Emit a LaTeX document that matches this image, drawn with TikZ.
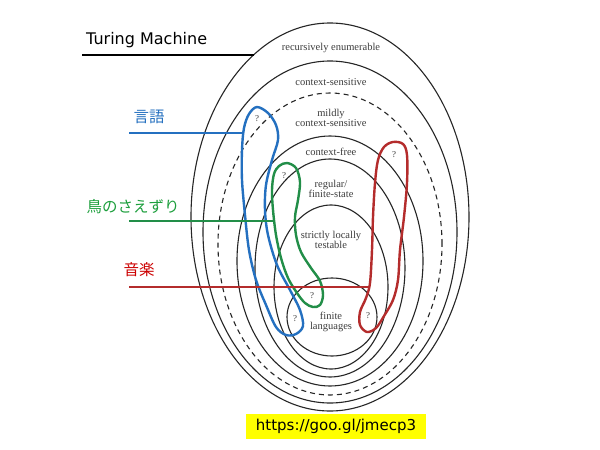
\documentclass[tikz,border=0pt]{standalone}
\usepackage{fontspec}
\setmainfont{Liberation Serif}
\newfontfamily\dejavu{DejaVu Sans}
\newfontfamily\jp{Noto Sans CJK JP}
\definecolor{langblue}{RGB}{36,112,192}
\definecolor{birdgreen}{RGB}{34,142,72}
\definecolor{musicred}{RGB}{180,44,44}
\definecolor{labgray}{RGB}{60,60,60}
\definecolor{urlyellow}{RGB}{255,255,0}
\tikzset{
  ring/.style={draw=black!85, line width=1.1pt},
  dashring/.style={ring, dash pattern=on 5pt off 4pt},
  loop/.style={line width=2.4pt, smooth cycle, tension=0.55},
  lab/.style={font=\fontsize{10.5}{12}\selectfont, text=labgray, align=center, inner sep=0pt},
  qm/.style={font=\fontsize{9}{10}\selectfont, text=labgray, inner sep=0pt},
  jplab/.style={font=\jp\fontsize{15.5}{17}\selectfont, inner sep=0pt},
  conn/.style={line width=2pt}
}
\begin{document}
\begin{tikzpicture}[x=1pt,y=-1pt]
\useasboundingbox (0,0) rectangle (600,450);
\fill[white] (0,0) rectangle (600,450);
% nested classes
\draw[ring] (330,217) ellipse [x radius=139pt, y radius=194pt];
\draw[ring] (330,232) ellipse [x radius=127pt, y radius=171pt];
\draw[dashring] (330,244) ellipse [x radius=112pt, y radius=151pt];
\draw[ring] (330,261) ellipse [x radius=93pt, y radius=125pt];
\draw[ring] (330,268) ellipse [x radius=75pt, y radius=109pt];
\draw[ring] (331,287) ellipse [x radius=57pt, y radius=82pt];
\draw[ring] (332,317) ellipse [x radius=45pt, y radius=39pt];
% class labels
\node[lab] (re) at (331,48) {recursively enumerable};
\node[lab] (cs) at (331,82) {context-sensitive};
\node[lab] (mcs) at (331,118) {mildly\\[-1.5pt]context-sensitive};
\node[lab] (cf) at (331,152) {context-free};
\node[lab] (reg) at (331,189) {regular/\\[-1.5pt]finite-state};
\node[lab] (slt) at (331,240) {strictly locally\\[-1.5pt]testable};
\node[lab] (fin) at (331,322) {finite\\[-1.5pt]languages};
% loops
\draw[langblue, loop] plot coordinates {(257,107) (268,113) (276,125) (278,140) (272,160) (266,185) (265,210) (268,235) (277,265) (290,290) (300,310) (303,326) (296,334) (286,335) (276,327) (266,305) (256,280) (249,250) (245,215) (242,180) (242,150) (244,128) (249,114)};
\draw[birdgreen, loop] plot coordinates {(287,163) (296,168) (300,182) (298,200) (295,217) (296,235) (301,252) (311,268) (320,281) (323,295) (320,305) (313,307) (305,303) (297,293) (288,278) (281,258) (276,235) (273,210) (272,190) (274,174) (279,166)};
\draw[musicred, loop] plot coordinates {(393,142) (403,144) (407,155) (407,183) (404,217) (400,250) (398,280) (393,300) (384,316) (376,328) (367,332) (360,325) (360,312) (366,298) (370,283) (372,250) (373,217) (375,183) (378,160) (384,147)};
% question marks
\node[qm] (q1) at (257,119) {?};
\node[qm] (q2) at (295,319) {?};
\node[qm] (q3) at (284,176) {?};
\node[qm] (q4) at (312,296) {?};
\node[qm] (q5) at (394,155) {?};
\node[qm] (q6) at (368,316) {?};
% Turing machine
\node[font=\dejavu\fontsize{16}{18}\selectfont, anchor=west, inner sep=0pt] (tm) at (86,40) {Turing Machine};
\coordinate (tmA) at (82,55);
\coordinate (tmB) at (254,55);
\draw[line width=1.8pt] (tmA) -- (tmB);
% language
\node[jplab, text=langblue] (lang) at (149,117) {言語};
\coordinate (langA) at (129,133);
\coordinate (langB) at (244,133);
\draw[conn, langblue] (langA) -- (langB);
% birdsong
\node[jplab, text=birdgreen!85!green] (bird) at (133,207) {鳥のさえずり};
\coordinate (birdA) at (129,221);
\coordinate (birdB) at (274,221);
\draw[conn, birdgreen] (birdA) -- (birdB);
% music
\node[jplab, text=red!80!black] (music) at (139,270) {音楽};
\coordinate (musicA) at (129,287);
\coordinate (musicB) at (369,287);
\draw[conn, musicred] (musicA) -- (musicB);
% url
\node[fill=urlyellow, minimum width=180pt, minimum height=25pt, inner sep=0pt, font=\dejavu\fontsize{15}{17}\selectfont] (url) at (336,426) {https://goo.gl/jmecp3};
\end{tikzpicture}
\end{document}
